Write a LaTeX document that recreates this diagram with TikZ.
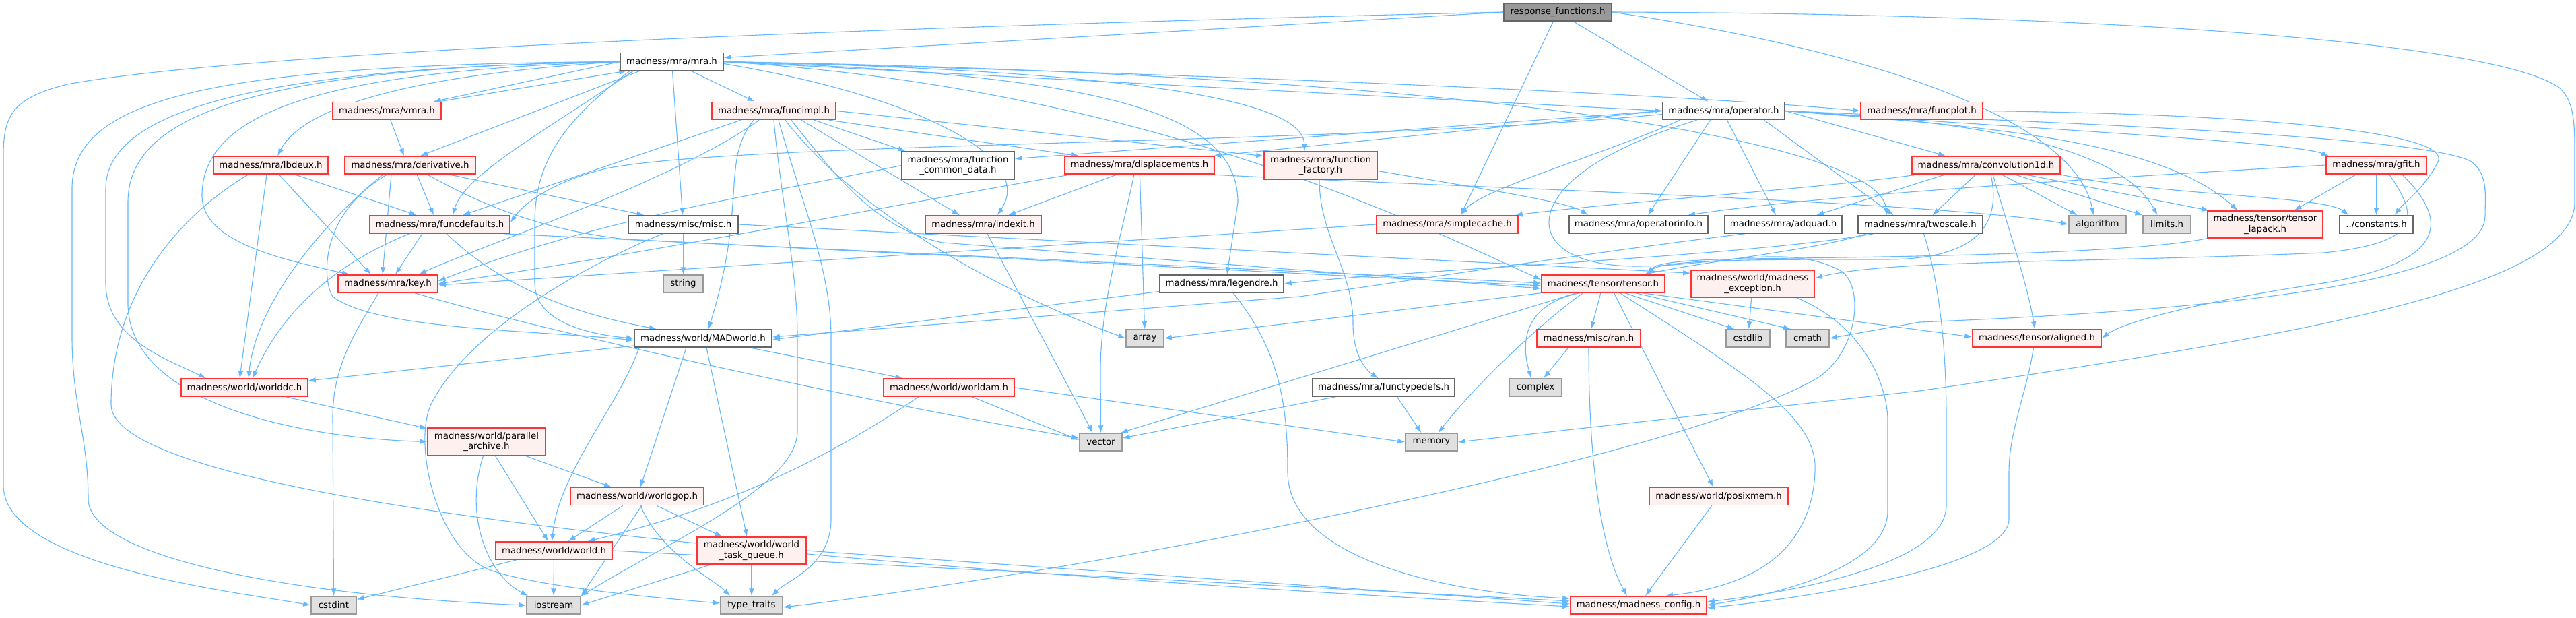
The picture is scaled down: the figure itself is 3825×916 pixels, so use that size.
\documentclass[tikz,border=0pt]{standalone}
\usepackage{fontspec}
\setmainfont{DejaVu Sans}
\usetikzlibrary{arrows.meta}
\definecolor{edgeblue}{HTML}{63B8FF}
\definecolor{redfill}{HTML}{FFF0F0}
\definecolor{redline}{HTML}{FF3333}
\definecolor{grayfill}{HTML}{E0E0E0}
\definecolor{grayline}{HTML}{999999}
\definecolor{darkline}{HTML}{666666}
\definecolor{rootfill}{HTML}{999999}
\pgfdeclarelayer{bgl}
\pgfdeclarelayer{edgel}
\pgfsetlayers{bgl,edgel,main}
\tikzset{
 box/.style={draw, line width=1.5pt, minimum height=26pt, inner sep=0pt, font=\fontsize{13.3}{15.5}\selectfont, align=center},
 rednode/.style={box, draw=redline, fill=redfill},
 whitenode/.style={box, draw=darkline, fill=white},
 graynode/.style={box, draw=grayline, fill=grayfill},
 rootnode/.style={box, draw=darkline, fill=rootfill},
 edge/.style={draw=edgeblue, line width=1.1pt, -{Latex[length=11pt,width=8pt]}},
}
\begin{document}
\begin{tikzpicture}[x=1pt,y=-1pt]
\begin{pgfonlayer}{bgl}
\fill[white] (0,0) rectangle (3825,916);
\end{pgfonlayer}
\useasboundingbox (0,0) rectangle (3825,916);
% nodes
\node[rootnode, minimum width=160pt] (resp) at (2313,18) {response\_functions.h};
\node[whitenode, minimum width=153pt] (mra) at (997.5,91.5) {madness/mra/mra.h};
\node[rednode, minimum width=161pt] (vmra) at (574.5,164.5) {madness/mra/vmra.h};
\node[rednode, minimum width=170pt] (lbdeux) at (402,245) {madness/mra/lbdeux.h};
\node[rednode, minimum width=194pt] (deriv) at (609,245) {madness/mra/derivative.h};
\node[rednode, minimum width=184pt] (funcimpl) at (1149,164.5) {madness/mra/funcimpl.h};
\node[whitenode, minimum width=167pt, minimum height=41pt] (fcd) at (1422.5,245.5) {madness/mra/function\\\_common\_data.h};
\node[rednode, minimum width=222pt] (displ) at (1692,245) {madness/mra/displacements.h};
\node[rednode, minimum width=168pt, minimum height=41pt] (ffac) at (1961,245.5) {madness/mra/function\\\_factory.h};
\node[whitenode, minimum width=181pt] (oper) at (2559.5,164.5) {madness/mra/operator.h};
\node[rednode, minimum width=181pt] (fplot) at (2853.5,164.5) {madness/mra/funcplot.h};
\node[rednode, minimum width=220pt] (conv) at (2949,245) {madness/mra/convolution1d.h};
\node[rednode, minimum width=149pt] (gfit) at (3528.5,245) {madness/mra/gfit.h};
\node[rednode, minimum width=208pt] (fdef) at (653,333) {madness/mra/funcdefaults.h};
\node[rednode, minimum width=148pt] (key) at (576,421) {madness/mra/key.h};
\node[rednode, minimum width=188pt] (worlddc) at (363,575) {madness/world/worlddc.h};
\node[whitenode, minimum width=163pt] (misc) at (1014.5,333) {madness/misc/misc.h};
\node[whitenode, minimum width=204pt] (madw) at (1044,502) {madness/world/MADworld.h};
\node[graynode, minimum width=59pt] (string) at (1014.5,421) {string};
\node[rednode, minimum width=172pt] (indexit) at (1460,333) {madness/mra/indexit.h};
\node[whitenode, minimum width=184pt] (legendre) at (1814,421) {madness/mra/legendre.h};
\node[graynode, minimum width=56pt] (array) at (1700,502) {array};
\node[rednode, minimum width=194pt] (worldam) at (1409,575) {madness/world/worldam.h};
\node[rednode, minimum width=210pt] (scache) at (2149,333) {madness/mra/simplecache.h};
\node[whitenode, minimum width=206pt] (opinfo) at (2433,333) {madness/mra/operatorinfo.h};
\node[whitenode, minimum width=174pt] (adquad) at (2648,333) {madness/mra/adquad.h};
\node[whitenode, minimum width=185pt] (twoscale) at (2851.5,333) {madness/mra/twoscale.h};
\node[rednode, minimum width=183pt] (tensor) at (2380.5,421) {madness/tensor/tensor.h};
\node[rednode, minimum width=183pt, minimum height=40pt] (mexc) at (2602.5,421) {madness/world/madness\\\_exception.h};
\node[rednode, minimum width=154pt] (ran) at (2359,502) {madness/misc/ran.h};
\node[graynode, minimum width=65pt] (cstdlib) at (2595.5,502) {cstdlib};
\node[graynode, minimum width=64pt] (cmath) at (2684,502) {cmath};
\node[whitenode, minimum width=211pt] (ftd) at (2054.5,575) {madness/mra/functypedefs.h};
\node[graynode, minimum width=78pt] (complex) at (2280,575) {complex};
\node[graynode, minimum width=85pt] (algorithm) at (3114.5,333) {algorithm};
\node[graynode, minimum width=71pt] (limits) at (3217.5,333) {limits.h};
\node[rednode, minimum width=171pt, minimum height=40pt] (tlapack) at (3363.5,333) {madness/tensor/tensor\\\_lapack.h};
\node[whitenode, minimum width=109pt] (const) at (3528.5,333) {../constants.h};
\node[rednode, minimum width=191pt] (aligned) at (3024.5,502) {madness/tensor/aligned.h};
\node[rednode, minimum width=175pt, minimum height=41pt] (parch) at (722.5,655.5) {madness/world/parallel\\\_archive.h};
\node[rednode, minimum width=198pt] (wgop) at (946,736.5) {madness/world/worldgop.h};
\node[rednode, minimum width=173pt] (world) at (822.5,817) {madness/world/world.h};
\node[graynode, minimum width=67pt] (cstdint) at (495.5,898) {cstdint};
\node[graynode, minimum width=80pt] (iostream) at (822,898) {iostream};
\node[graynode, minimum width=63pt] (vector) at (1634.5,656) {vector};
\node[rednode, minimum width=162pt, minimum height=40pt] (wtq) at (1116,817) {madness/world/world\\\_task\_queue.h};
\node[graynode, minimum width=92pt] (ttraits) at (1116,898) {type\_traits};
\node[graynode, minimum width=77pt] (memory) at (2125.5,656) {memory};
\node[rednode, minimum width=206pt] (posix) at (2552,736.5) {madness/world/posixmem.h};
\node[rednode, minimum width=202pt] (mconfig) at (2433,898) {madness/madness\_config.h};

\begin{pgfonlayer}{edgel}
% response_functions
\draw[edge] (resp.west) -- ([yshift=6pt]mra.east);
\draw[edge] (resp) -- (oper);
\draw[edge] (resp.west) .. controls (1500,35) and (400,70) .. (100,125) .. controls (20,145) and (5,170) .. (5,230) -- (5,720) .. controls (5,840) and (350,878) .. (cstdint.west);
\draw[edge] (resp.east) .. controls (3100,20) and (3700,60) .. (3800,130) .. controls (3822,150) and (3823,180) .. (3823,230) -- (3823,300) .. controls (3823,430) and (3400,500) .. (2850,580) -- (memory.east);
\draw[edge] (resp.east) .. controls (2750,70) and (3080,170) .. ([xshift=-6pt]algorithm.north);
\draw[edge] (resp) -- ([xshift=20pt]scache.north);
% mra
\draw[edge] (mra.west) -- ([xshift=-12pt]vmra.north east);
\draw[edge] ([xshift=-4pt]vmra.north east) -- ([xshift=10pt]mra.south west);
\draw[edge] (mra.west) .. controls (700,105) and (460,140) .. ([xshift=10pt]lbdeux.north);
\draw[edge] ([xshift=30pt]mra.south west) -- ([xshift=15pt]deriv.north);
\draw[edge] ([xshift=20pt]mra.south west) .. controls (800,200) and (690,260) .. ([xshift=19pt]fdef.north);
\draw[edge] (mra.west) .. controls (500,105) and (300,160) .. (300,290) .. controls (300,360) and (420,385) .. ([xshift=-57pt]key.north);
\draw[edge] (mra.west) .. controls (400,100) and (157,160) .. (157,280) -- (157,420) .. controls (157,500) and (240,530) .. ([xshift=-57pt]worlddc.north);
\draw[edge] (mra.west) .. controls (300,95) and (107,150) .. (107,280) -- (107,500) .. controls (107,600) and (131,650) .. (131,740) .. controls (131,830) and (450,885) .. (iostream.west);
\draw[edge] (mra.west) .. controls (350,100) and (190,180) .. (190,300) -- (190,450) .. controls (190,600) and (450,650) .. (parch.west);
\draw[edge] (mra) -- (misc);
\draw[edge] ([xshift=15pt]mra.south west) .. controls (850,170) and (794,230) .. (794,330) -- (794,420) .. controls (794,480) and (880,497) .. (madw.west);
\draw[edge] (mra) -- (funcimpl);
\draw[edge] ([yshift=-3pt]mra.east) .. controls (1350,140) and (1540,230) .. ([xshift=21pt]indexit.north);
\draw[edge] (mra.east) .. controls (1650,110) and (1838,170) .. (1838,300) -- ([xshift=8pt]legendre.north);
\draw[edge] (mra.east) .. controls (1700,105) and (1935,150) .. ([xshift=-24pt]ffac.north);
\draw[edge] (mra.east) -- (oper.west);
\draw[edge] (mra.east) .. controls (1800,110) and (2500,140) .. (fplot.west);
\draw[edge] (mra.east) .. controls (2200,110) and (2790,210) .. ([xshift=-50pt]twoscale.north);
\draw[edge] (mra.east) .. controls (1700,130) and (2100,330) .. ([yshift=6pt]tensor.west);
% vmra
\draw[edge] (vmra) -- ([xshift=-9pt]deriv.north);
% lbdeux
\draw[edge] ([xshift=35pt]lbdeux.south) -- ([xshift=-34pt]fdef.north);
\draw[edge] ([xshift=12pt]lbdeux.south) -- ([xshift=-25pt]key.north);
\draw[edge] ([xshift=-6pt]lbdeux.south) -- ([xshift=-7pt]worlddc.north);
\draw[edge] ([xshift=-33pt]lbdeux.south) .. controls (250,330) and (165,450) .. (165,600) .. controls (165,760) and (1400,850) .. ([yshift=-2pt]mconfig.west);
% derivative
\draw[edge] ([xshift=10pt]deriv.south) -- ([xshift=-9pt]fdef.north);
\draw[edge] ([xshift=-40pt]deriv.south) .. controls (480,330) and (380,450) .. ([xshift=6pt]worlddc.north);
\draw[edge] ([xshift=-28pt]deriv.south) -- ([xshift=-8pt]key.north);
\draw[edge] ([xshift=-34pt]deriv.south) .. controls (470,320) and (480,420) .. (494,440) .. controls (560,490) and (800,490) .. ([yshift=-3pt]madw.west);
\draw[edge] ([xshift=57pt]deriv.south) -- ([xshift=-58pt]misc.north);
\draw[edge] ([xshift=25pt]deriv.south) .. controls (700,295) and (790,340) .. (930,355) -- ([yshift=-3pt]tensor.west);
% funcdefaults
\draw[edge] ([xshift=-26pt]fdef.south) -- ([xshift=11pt]key.north);
\draw[edge] ([xshift=-45pt]fdef.south) .. controls (500,390) and (420,460) .. ([xshift=12pt]worlddc.north);
\draw[edge] ([xshift=10pt]fdef.south) .. controls (760,440) and (880,470) .. ([xshift=-69pt]madw.north);
\draw[edge] ([xshift=-10pt]fdef.south east) -- ([yshift=1pt]tensor.west);
% key
\draw[edge] ([xshift=-14pt]key.south) .. controls (530,490) and (494,540) .. (494,620) -- (cstdint.north);
\draw[edge] ([xshift=40pt]key.south) .. controls (800,490) and (1300,600) .. ([yshift=6pt]vector.west);
% worlddc
\draw[edge] (worlddc) -- (parch);
% misc
\draw[edge] (misc) -- (string);
\draw[edge] ([xshift=-30pt]misc.south) .. controls (900,380) and (700,480) .. (640,600) .. controls (612,660) and (650,820) .. (731,847) .. controls (800,870) and (950,885) .. ([yshift=3pt]ttraits.west);
\draw[edge] (misc.east) -- ([yshift=-5pt]mexc.north west);
% MADworld
\draw[edge] (madw) -- (worlddc);
\draw[edge] (madw) -- (worldam);
\draw[edge] ([xshift=5pt]madw.south) -- ([xshift=-7pt]wtq.north);
\draw[edge] ([xshift=-25pt]madw.south) -- ([xshift=5pt]wgop.north);
\draw[edge] ([xshift=-95pt]madw.south) .. controls (920,600) and (830,700) .. ([xshift=-3pt]world.north);
% worldam
\draw[edge] (worldam) -- ([yshift=3pt]vector.west);
\draw[edge] (worldam.east) -- (memory.west);
\draw[edge] ([xshift=-45pt]worldam.south) .. controls (1200,700) and (1050,760) .. ([xshift=50pt]world.north);
% parallel_archive
\draw[edge] (parch) -- (wgop);
\draw[edge] (parch) -- (world);
\draw[edge] ([xshift=-5pt]parch.south) .. controls (690,760) and (720,850) .. ([xshift=-38pt]iostream.north);
% worldgop
\draw[edge] (wgop) -- (world);
\draw[edge] (wgop) -- (wtq);
\draw[edge] ([xshift=5pt]wgop.south) .. controls (980,820) and (1060,860) .. ([xshift=-32pt]ttraits.north);
\draw[edge] ([xshift=7pt]wgop.south) -- (iostream.north east);
% world
\draw[edge] (world) -- (cstdint);
\draw[edge] (world) -- (iostream);
\draw[edge] (world.east) -- ([yshift=6pt]mconfig.west);
% world_task_queue
\draw[edge] (wtq) -- (ttraits);
\draw[edge] (wtq.east) -- ([yshift=2pt]mconfig.west);
\draw[edge] ([xshift=-60pt]wtq.south) -- (iostream.east);
% indexit
\draw[edge] ([xshift=6pt]indexit.south) -- ([xshift=-12pt]vector.north);
% legendre
\draw[edge] (legendre) -- ([yshift=-2pt]madw.east);
\draw[edge] ([xshift=17pt]legendre.south) .. controls (1900,520) and (1912,600) .. (1912,700) .. controls (1912,830) and (2150,880) .. ([yshift=10pt]mconfig.west);
% function_common_data
\draw[edge] (fcd.west) .. controls (1150,285) and (900,320) .. ([yshift=4pt]key.east);
% displacements
\draw[edge] ([xshift=-33pt]displ.south) -- ([xshift=37pt]indexit.north);
\draw[edge] ([xshift=-8pt]displ.south) .. controls (1665,350) and (1634,450) .. (1634,550) -- (vector.north);
\draw[edge] (displ) -- (array);
\draw[edge] ([xshift=-100pt]displ.south) .. controls (1400,290) and (1000,370) .. (key.east);
\draw[edge] ([xshift=-10pt]displ.south east) .. controls (2100,275) and (2900,300) .. (algorithm.west);
% function_factory
\draw[edge] ([xshift=-2pt]ffac.south) .. controls (1959,350) and (2009,400) .. (2009,480) .. controls (2009,530) and (2030,550) .. ([xshift=-8pt]ftd.north);
\draw[edge] ([yshift=-8pt]ffac.east) .. controls (2200,280) and (2330,300) .. ([xshift=-75pt]opinfo.north);
% funcimpl
\draw[edge] ([xshift=-49pt]funcimpl.south) -- ([xshift=34pt]fdef.north);
\draw[edge] ([xshift=-22pt]funcimpl.south) .. controls (1000,270) and (700,370) .. ([xshift=46pt]key.north);
\draw[edge] ([xshift=-30pt]funcimpl.south) .. controls (1070,240) and (1110,300) .. ([xshift=8pt]madw.north);
\draw[edge] ([xshift=0pt]funcimpl.south) .. controls (1160,300) and (1184,400) .. (1184,500) -- (1184,640) .. controls (1184,720) and (1000,800) .. (iostream.north east);
\draw[edge] ([xshift=7pt]funcimpl.south) .. controls (1190,300) and (1234,400) .. (1234,500) -- (1234,770) .. controls (1234,840) and (1170,860) .. ([xshift=30pt]ttraits.north);
\draw[edge] ([xshift=17pt]funcimpl.south) .. controls (1260,300) and (1450,420) .. (array.west);
\draw[edge] ([xshift=26pt]funcimpl.south) .. controls (1240,260) and (1300,340) .. (1400,360) -- ([yshift=-7pt]tensor.west);
\draw[edge] ([xshift=41pt]funcimpl.south) -- ([xshift=-35pt]indexit.north);
\draw[edge] ([xshift=82pt]funcimpl.south) -- ([xshift=-90pt]displ.north);
\draw[edge] (funcimpl.east) -- ([yshift=14pt]ffac.west);
\draw[edge] ([xshift=60pt]funcimpl.south) -- ([xshift=-78pt]fcd.north);
% operator
\draw[edge] (oper.west) -- ([yshift=10pt]fcd.east);
\draw[edge] (oper.west) -- ([xshift=-2pt]displ.north east);
\draw[edge] ([yshift=-5pt]oper.west) .. controls (2000,215) and (1100,210) .. (900,250) .. controls (820,270) and (780,300) .. ([yshift=3pt]fdef.east);
\draw[edge] ([xshift=-65pt]oper.south) .. controls (2380,230) and (2200,280) .. ([xshift=20pt]scache.north);
\draw[edge] ([xshift=-20pt]oper.south) -- ([xshift=14pt]opinfo.north);
\draw[edge] ([xshift=5pt]oper.south) -- ([xshift=-11pt]adquad.north);
\draw[edge] ([xshift=60pt]oper.south) -- ([xshift=-40pt]twoscale.north);
\draw[edge] (oper.east) -- ([xshift=-60pt]conv.north);
\draw[edge] (oper.east) .. controls (3000,190) and (3400,210) .. ([xshift=5pt]gfit.north west);
\draw[edge] (oper.east) .. controls (2900,185) and (3200,200) .. ([xshift=-41pt]tlapack.north);
\draw[edge] (oper.east) .. controls (2950,180) and (3150,220) .. ([xshift=-14pt]limits.north);
\draw[edge] ([xshift=-40pt]oper.south) .. controls (2350,230) and (2300,290) .. (2300,330) .. controls (2300,370) and (2350,395) .. (2430,395) .. controls (2550,395) and (2650,360) .. (2730,400) .. controls (2770,420) and (2760,520) .. (2700,560) .. controls (2500,680) and (1600,850) .. ([yshift=-3pt]ttraits.east);
\draw[edge] (oper.east) .. controls (3000,180) and (3600,200) .. (3670,240) .. controls (3695,260) and (3690,290) .. (3690,320) .. controls (3690,420) and (3300,460) .. (2850,478) -- (cmath.east);
% funcplot
\draw[edge] (fplot.east) .. controls (3400,170) and (3640,200) .. (3620,240) .. controls (3600,280) and (3570,300) .. ([xshift=27pt]const.north);
% convolution1d
\draw[edge] ([xshift=-100pt]conv.south) .. controls (2700,280) and (2400,300) .. ([xshift=-5pt]scache.north east);
\draw[edge] ([xshift=-60pt]conv.south) -- ([xshift=49pt]adquad.north);
\draw[edge] ([xshift=-15pt]conv.south) -- ([xshift=18pt]twoscale.north);
\draw[edge] ([xshift=7pt]conv.south) .. controls (2972,330) and (2940,385) .. (2800,385) .. controls (2600,385) and (2470,385) .. ([xshift=64pt]tensor.north);
\draw[edge] ([xshift=10pt]conv.south) .. controls (2985,350) and (3010,420) .. ([xshift=-3pt]aligned.north);
\draw[edge] ([xshift=23pt]conv.south) -- ([xshift=-30pt]algorithm.north);
\draw[edge] ([xshift=42pt]conv.south) -- ([xshift=-36pt]limits.north);
\draw[edge] ([xshift=57pt]conv.south) -- ([xshift=3pt]tlapack.north west);
\draw[edge] ([xshift=-1pt]conv.south east) .. controls (3200,290) and (3450,290) .. ([xshift=-41pt]const.north);
% gfit
\draw[edge] ([xshift=-30pt]gfit.south) -- ([xshift=43pt]tlapack.north);
\draw[edge] (gfit) -- (const);
\draw[edge] (gfit.west) .. controls (3100,265) and (2700,290) .. ([xshift=73pt]opinfo.north);
\draw[edge] ([xshift=19pt]gfit.south) .. controls (3590,320) and (3600,360) .. (3450,375) .. controls (3100,390) and (2800,385) .. ([yshift=8pt]mexc.east);
\draw[edge] ([xshift=38pt]gfit.south) .. controls (3640,330) and (3630,390) .. (3450,420) .. controls (3250,450) and (3150,480) .. (aligned.east);
% twoscale
\draw[edge] ([xshift=-70pt]twoscale.south) .. controls (2600,380) and (2100,400) .. (legendre.east);
\draw[edge] ([xshift=-80pt]twoscale.south) .. controls (2700,370) and (2550,385) .. ([xshift=60pt]tensor.north);
\draw[edge] ([xshift=5pt]twoscale.south) .. controls (2880,420) and (2890,520) .. (2890,620) -- (2890,750) .. controls (2890,840) and (2650,880) .. ([yshift=5pt]mconfig.east);
% adquad
\draw[edge] ([xshift=-57pt]adquad.south) .. controls (2400,370) and (2200,400) .. (1930,440) -- ([yshift=2pt]madw.east);
% simplecache
\draw[edge] (scache.west) -- ([yshift=-2pt]key.east);
% tensor
\draw[edge] (tensor) -- (ran);
\draw[edge] ([xshift=-35pt]tensor.south) .. controls (2270,450) and (2255,500) .. ([xshift=-6pt]complex.north);
\draw[edge] ([xshift=32pt]tensor.south) -- ([xshift=-20pt]cstdlib.north);
\draw[edge] ([xshift=48pt]tensor.south) -- ([xshift=-25pt]cmath.north);
\draw[edge] (tensor.south west) -- (array.east);
\draw[edge] ([xshift=-40pt]tensor.south) -- ([xshift=-3pt]vector.north east);
\draw[edge] ([xshift=-30pt]tensor.south) .. controls (2300,470) and (2200,560) .. ([xshift=10pt]memory.north);
\draw[edge] ([xshift=16pt]tensor.south) -- ([xshift=-8pt]posix.north);
\draw[edge] ([xshift=25pt]tensor.south) .. controls (2600,560) and (2700,620) .. (2695,700) .. controls (2690,820) and (2600,870) .. ([xshift=40pt]mconfig.north);
\draw[edge] ([xshift=58pt]tensor.south) -- ([yshift=2pt]aligned.west);
% madness_exception
\draw[edge] (mexc) -- (cstdlib);
\draw[edge] ([xshift=65pt]mexc.south) .. controls (2760,480) and (2800,560) .. (2803,620) -- (2803,760) .. controls (2800,840) and (2650,880) .. (mconfig.east);
% ran
\draw[edge] ([xshift=-30pt]ran.south) -- ([xshift=12pt]complex.north);
\draw[edge] (ran.south) .. controls (2359,700) and (2380,820) .. ([xshift=-17pt]mconfig.north);
% posixmem
\draw[edge] (posix) -- ([xshift=10pt]mconfig.north);
% aligned
\draw[edge] ([xshift=-5pt]aligned.south) .. controls (3010,580) and (2983,640) .. (2983,700) -- (2983,770) .. controls (2983,840) and (2700,885) .. ([yshift=-4pt]mconfig.east);
% functypedefs
\draw[edge] (ftd) -- ([yshift=6pt]vector.east);
\draw[edge] ([xshift=20pt]ftd.south) -- ([xshift=-15pt]memory.north);
% tensor_lapack
\draw[edge] (tlapack.south west) .. controls (3150,380) and (2700,382) .. (2600,384) .. controls (2500,385) and (2460,390) .. ([xshift=66pt]tensor.north);
\end{pgfonlayer}
\end{tikzpicture}
\end{document}
